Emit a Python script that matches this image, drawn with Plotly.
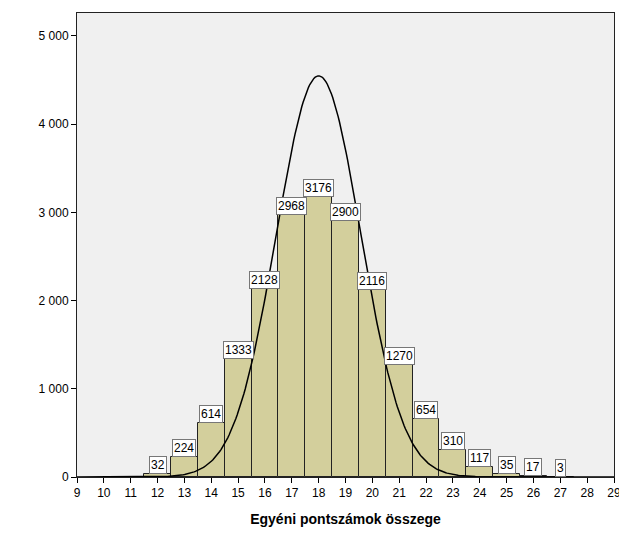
import numpy as np
import plotly.graph_objects as go

#. Histogram data (score -> frequency)
scores = [12, 13, 14, 15, 16, 17, 18, 19, 20, 21, 22, 23, 24, 25, 26, 27]
counts = [32, 224, 614, 1333, 2128, 2968, 3176, 2900, 2116, 1270, 654, 310, 117, 35, 17, 3]

#. Normal curve parameters
curve_mean = 18.0
curve_sd = 1.57
n_total = sum(counts)

y_ticks = [0, 1000, 2000, 3000, 4000, 5000]
y_tick_labels = ["0", "1 000", "2 000", "3 000", "4 000", "5 000"]
x_ticks = list(range(9, 30))

fig = go.Figure()

#* Bars
fig.add_trace(go.Bar(
    x=scores, y=counts, width=1,
    marker=dict(color="#D3CF9C", line=dict(color="#222222", width=1)),
    hoverinfo="x+y",
))

#* Normal curve
xs = np.linspace(9, 29, 400)
ys = n_total / (curve_sd * np.sqrt(2 * np.pi)) * np.exp(-(xs - curve_mean) ** 2 / (2 * curve_sd ** 2))
fig.add_trace(go.Scatter(x=xs, y=ys, mode="lines", line=dict(color="black", width=1.5), hoverinfo="skip"))

#* Count labels in boxes
for s, c in zip(scores, counts):
    fig.add_annotation(
        x=s, y=c, text=str(c), showarrow=False, yanchor="bottom", yshift=0,
        font=dict(family="Arial", size=12, color="black"),
        bgcolor="white", bordercolor="#777777", borderwidth=1, borderpad=1,
    )

#: page body has an 8px margin, so the figure is shrunk to fit the window
fig.update_layout(
    width=619, height=536,
    margin=dict(l=69, r=13, t=5, b=67),
    paper_bgcolor="white", plot_bgcolor="#F0F0F0",
    showlegend=False, bargap=0,
    font=dict(family="Arial", size=12, color="black"),
)
fig.update_xaxes(
    range=[9, 29], tickvals=x_ticks, ticks="outside", ticklen=5, tickcolor="black",
    showgrid=False, zeroline=False, showline=True, linecolor="#222222", linewidth=1, mirror=True,
    automargin=False,
    title=dict(text="<b>Egyéni pontszámok összege</b>", font=dict(family="Arial", size=14), standoff=14),
)
fig.update_yaxes(
    range=[0, 5260], tickvals=y_ticks, ticktext=y_tick_labels, ticks="outside", ticklen=5, tickcolor="black",
    showgrid=False, zeroline=False, showline=True, linecolor="#222222", linewidth=1, mirror=True,
    automargin=False,
)

fig.write_html("out.html")
